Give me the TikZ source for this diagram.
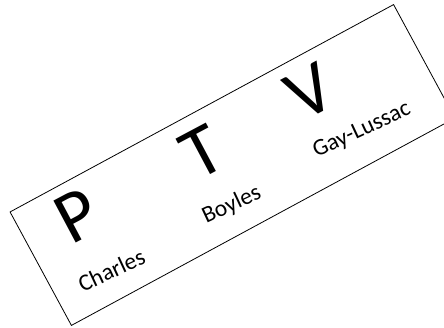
\documentclass[tikz,border=0pt]{standalone}
\usepackage{fontspec}
\setmainfont{Carlito}
\begin{document}
\begin{tikzpicture}[x=1pt,y=1pt,
  frame/.style={draw=black, line width=0.8pt, fill=white, minimum width=436pt, minimum height=129pt, inner sep=0pt, rotate=28.4},
  big/.style={font=\fontsize{74}{74}\selectfont, inner sep=0pt, rotate=28},
  lbl/.style={font=\fontsize{23.5}{23.5}\selectfont, inner sep=0pt, anchor=base, rotate=25}]
\useasboundingbox (0,0) rectangle (444,327);
\begin{scope}[shift={(232.5,162)}, rotate=28.4]
\node[frame] (box) at (0,0) {};
\node[big] (p) at (-161,29) {P};
\node[big] (t) at (-20,26) {T};
\node[big] (v) at (103,28) {V};
\node[lbl] (charles) at (-157,-43) {Charles};
\node[lbl] (boyles) at (-20,-41) {Boyles};
\node[lbl] (gay) at (130,-37) {Gay-Lussac};
\end{scope}
\end{tikzpicture}
\end{document}
